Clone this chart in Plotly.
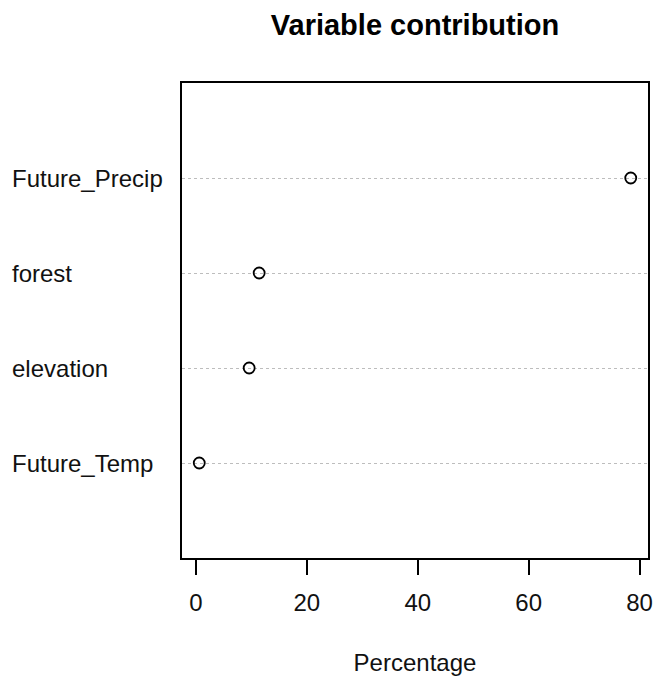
import plotly.graph_objects as go

categories = ["Future_Temp", "elevation", "forest", "Future_Precip"]
values = [0.6, 9.6, 11.4, 78.4]
x_ticks = [0, 20, 40, 60, 80]

FONT = "Liberation Sans, Arial, sans-serif"
W, H = 657, 682
L, R, T, B = 182, 9, 83, 124

fig = go.Figure()
fig.add_trace(go.Scatter(
    x=values, y=list(range(len(categories))), mode="markers",
    marker=dict(symbol="circle-open", size=11, color="black", line=dict(width=1.8, color="black")),
    showlegend=False, hoverinfo="skip",
))

pad = (max(values) - min(values)) * 0.04
fig.update_layout(
    template="none",
    width=W, height=H,
    margin=dict(l=L, r=R, t=T, b=B, autoexpand=False),
    paper_bgcolor="white", plot_bgcolor="white",
    font=dict(family=FONT, size=24, color="black"),
    title=dict(text="<b>Variable contribution</b>", x=(L + (W - R - L) / 2) / W, xanchor="center",
               y=1 - 25 / H, yanchor="middle", font=dict(size=29, family=FONT, color="black")),
    xaxis=dict(range=[min(values) - pad, max(values) + pad], tickvals=x_ticks,
               automargin=False,
               ticks="outside", ticklen=15, tickwidth=1.5, tickcolor="black",
               ticklabelstandoff=7, ticklabeloverflow="allow",
               showline=True, linecolor="black", linewidth=1.5, mirror=True,
               showgrid=False, zeroline=False,
               tickfont=dict(size=24, family=FONT, color="#111"),
               title=dict(text="Percentage", font=dict(size=24, family=FONT, color="#111"), standoff=40)),
    yaxis=dict(range=[-1, len(categories)], tickvals=list(range(len(categories))),
               automargin=False,
               showticklabels=False, ticks="",
               showline=True, linecolor="black", linewidth=1.5, mirror=True,
               showgrid=True, gridcolor="#bdbdbd", gridwidth=1, griddash="dot",
               zeroline=False),
)

plot_w = W - L - R
for i, c in enumerate(categories):
    fig.add_annotation(text=c, x=(10 - L) / plot_w, xref="paper", xanchor="left",
                       y=i, yref="y", yanchor="middle", showarrow=False,
                       font=dict(size=24, family=FONT, color="#111"))

# remove the browser's default 8px body margin so the figure fills the window exactly
fig.write_html("out.html", config={"displayModeBar": False},
               post_script="document.body.style.margin='0';document.body.style.overflow='hidden';")
